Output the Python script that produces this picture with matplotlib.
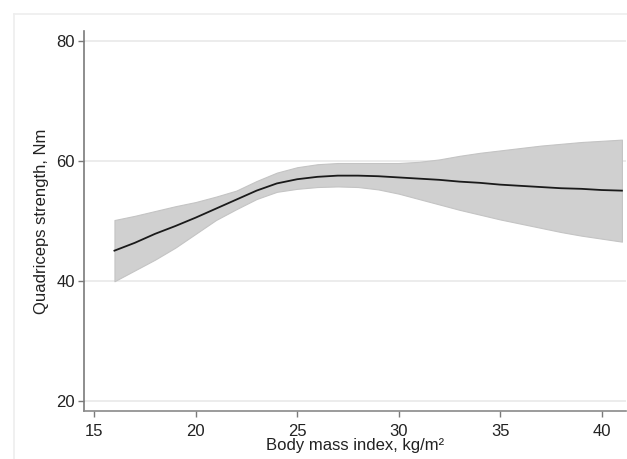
import matplotlib
matplotlib.use("Agg")
import matplotlib.pyplot as plt
from matplotlib.lines import Line2D

plt.rcParams['font.family'] = ['Liberation Sans', 'DejaVu Sans']

bmi = [16, 17, 18, 19, 20, 21, 22, 23, 24, 25, 26, 27, 28, 29, 30,
       31, 32, 33, 34, 35, 36, 37, 38, 39, 40, 41]
strength = [45.0, 46.3, 47.8, 49.1, 50.5, 52.0, 53.5, 55.0, 56.2, 56.9, 57.3, 57.5, 57.5, 57.4, 57.2,
            57.0, 56.8, 56.5, 56.3, 56.0, 55.8, 55.6, 55.4, 55.3, 55.1, 55.0]
ci_upper = [50.1, 50.8, 51.6, 52.4, 53.1, 54.0, 55.0, 56.6, 58.0, 58.9, 59.4, 59.6, 59.6, 59.6, 59.6,
            59.8, 60.2, 60.8, 61.3, 61.7, 62.1, 62.5, 62.8, 63.1, 63.3, 63.5]
ci_lower = [39.9, 41.7, 43.5, 45.5, 47.8, 50.1, 51.9, 53.6, 54.8, 55.3, 55.6, 55.7, 55.6, 55.2, 54.5,
            53.6, 52.7, 51.8, 51.0, 50.2, 49.5, 48.8, 48.1, 47.5, 47.0, 46.5]

xticks = [15, 20, 25, 30, 35, 40]
yticks = [20, 40, 60, 80]
xlabel = "Body mass index, kg/m²"
ylabel = "Quadriceps strength, Nm"

W, H = 627, 459
fig = plt.figure(figsize=(W / 100, H / 100), dpi=100)
fig.patch.set_facecolor('white')

# faint outer graph-region border
fig.add_artist(Line2D([14 / W, 1], [1 - 14 / H, 1 - 14 / H], transform=fig.transFigure,
                      color='#eeeeee', lw=1.2))
fig.add_artist(Line2D([14 / W, 14 / W], [0, 1 - 14 / H], transform=fig.transFigure,
                      color='#eeeeee', lw=1.2))

left, right = 84 / W, 626 / W
bottom, top = 1 - 410.7 / H, 1 - 31 / H
ax = fig.add_axes([left, bottom, right - left, top - bottom])

ax.fill_between(bmi, ci_lower, ci_upper, facecolor='#d0d0d0', edgecolor='#c4c4c4',
                linewidth=0.8, zorder=2)
ax.plot(bmi, strength, color='#1a1a1a', lw=1.3, zorder=3)

ax.set_xlim(14.5, 41.2)
ax.set_ylim(18.33, 81.6)
ax.set_xticks(xticks)
ax.set_yticks(yticks)

for y in yticks:
    ax.axhline(y, color='#ebebeb', lw=1.3, zorder=1)

for s in ['top', 'right']:
    ax.spines[s].set_visible(False)
ax.spines['left'].set_color('#7a7a7a')
ax.spines['bottom'].set_color('#8a8a8a')
ax.spines['left'].set_linewidth(1.2)
ax.spines['bottom'].set_linewidth(1.2)

ax.tick_params(axis='both', colors='#7a7a7a', labelcolor='#222222', labelsize=12,
               length=4.5, width=1.0)
ax.tick_params(axis='x', pad=5)
ax.tick_params(axis='y', pad=2)

ax.set_xlabel(xlabel, fontsize=12, color='#222222', labelpad=-1)
ax.set_ylabel(ylabel, fontsize=12, color='#222222', labelpad=5)

fig.savefig('out.png', dpi=100, facecolor='white')
